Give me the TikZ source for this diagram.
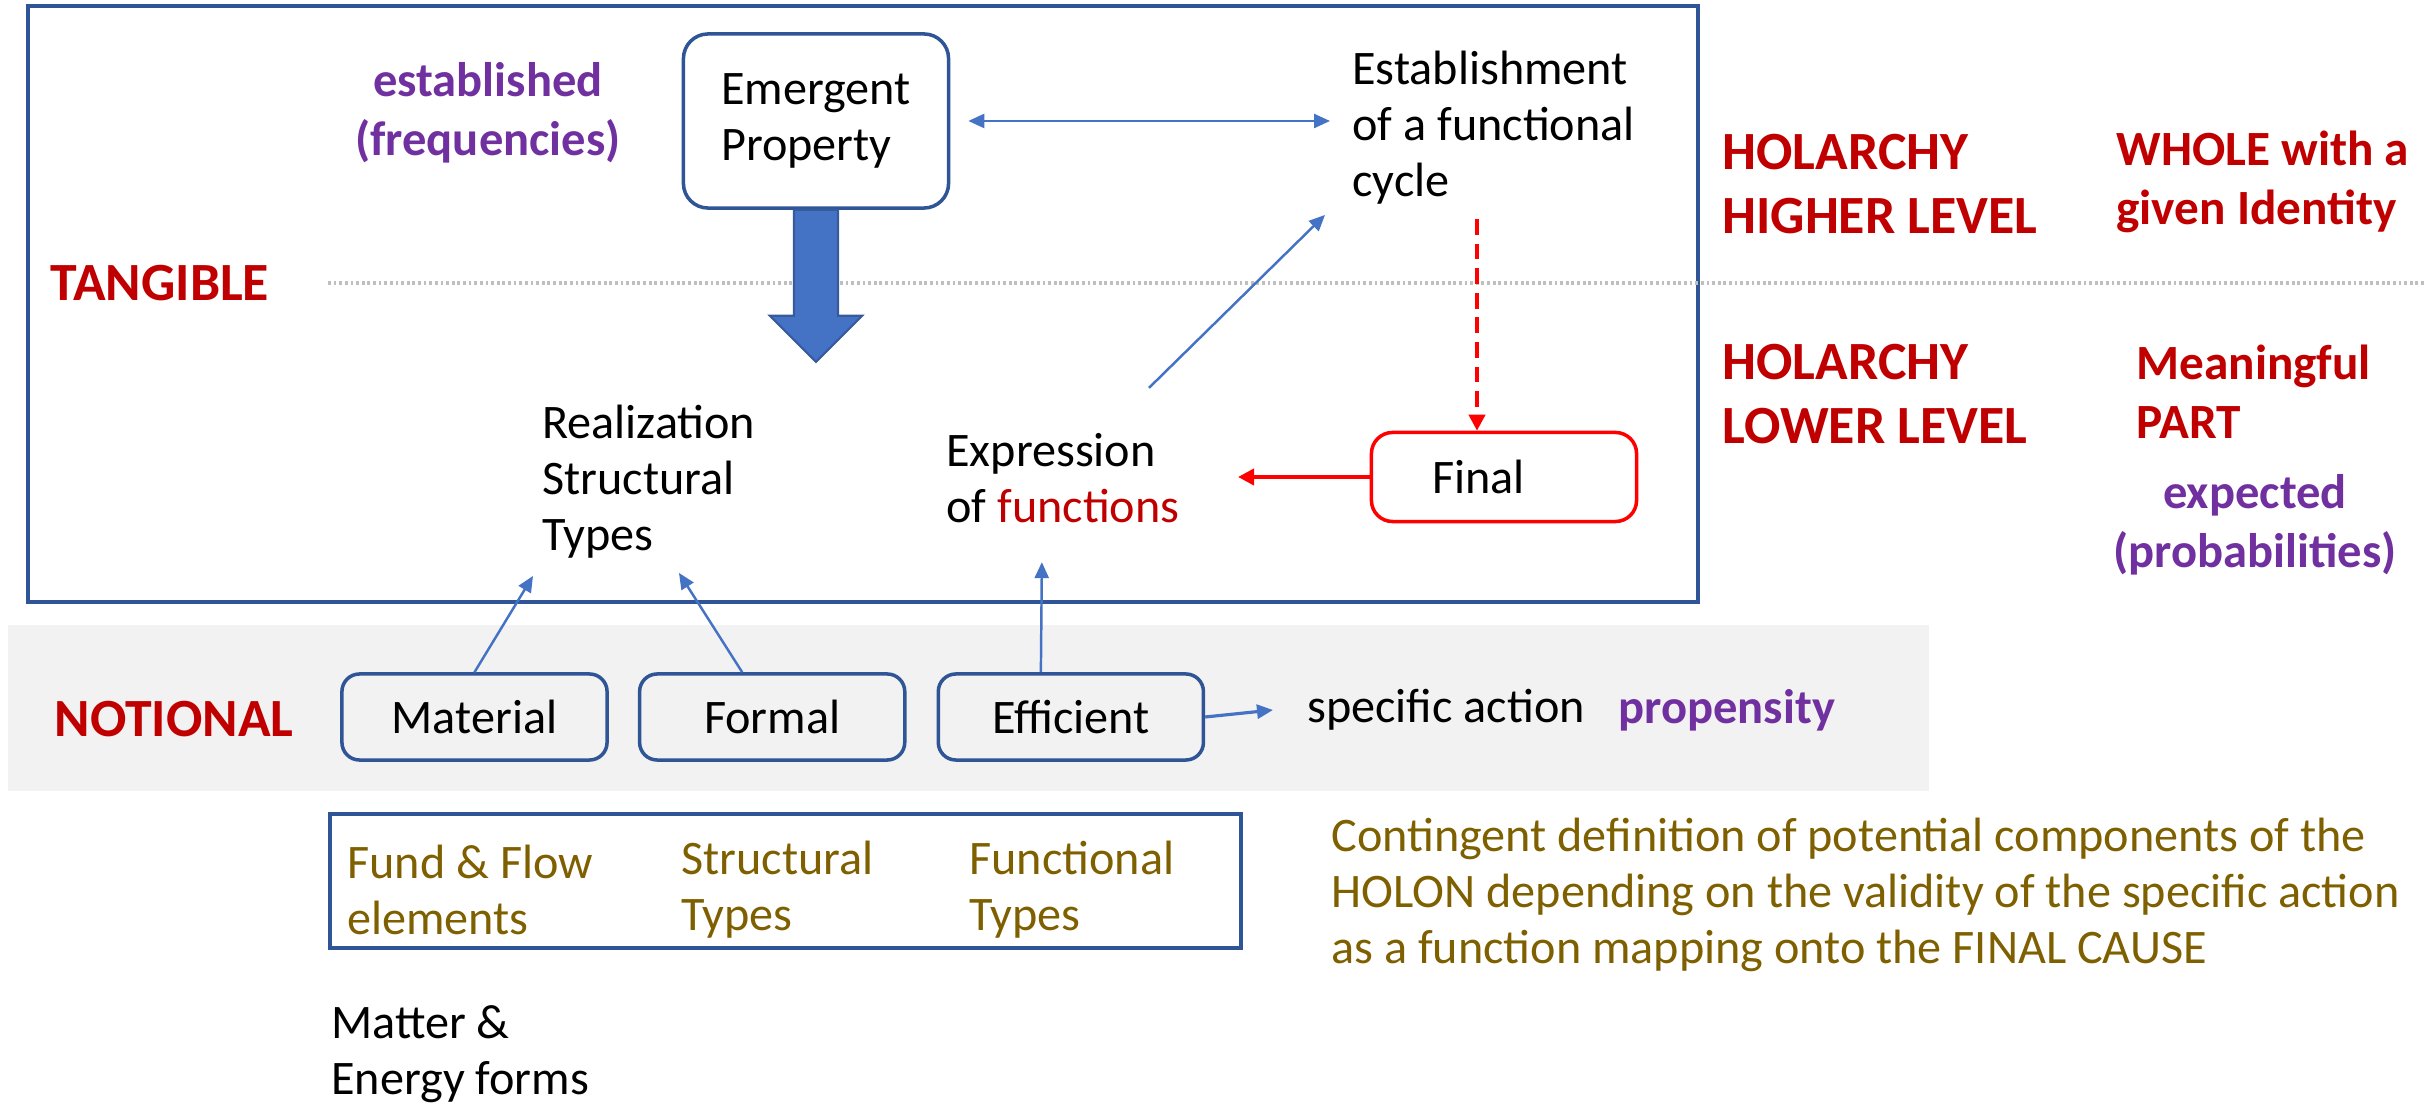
\documentclass[tikz,border=0pt]{standalone}
\usepackage{fontspec}
\setmainfont{Carlito}
\usepackage{tikz}
\usetikzlibrary{arrows.meta,positioning,calc}
\definecolor{frameblue}{HTML}{2F5597}
\definecolor{linkblue}{HTML}{4472C4}
\definecolor{darkred}{HTML}{C00000}
\definecolor{brightred}{HTML}{FF0000}
\definecolor{plum}{HTML}{7030A0}
\definecolor{olive}{HTML}{7F6000}
\definecolor{bandgray}{HTML}{F2F2F2}
\definecolor{dotgray}{HTML}{BFBFBF}
\tikzset{
  >={Triangle[length=1.6mm,width=1.4mm]},
  every node/.style={font=\fontsize{13.7}{15.9}\selectfont,text=black},
  box/.style={draw=frameblue,line width=1pt,rounded corners=7pt,align=left},
  causebox/.style={box,rounded corners=5pt,align=center,minimum width=2.65cm,minimum height=0.86cm},
  finalbox/.style={draw=brightred,line width=1pt,rounded corners=6pt,align=left,inner xsep=0.61cm,text width=1.43cm,minimum height=0.89cm},
  txt/.style={align=left},
  level/.style={align=left,font=\bfseries\fontsize{15.3}{18.2}\selectfont,text=darkred},
  role/.style={align=left,font=\bfseries\fontsize{14}{16.8}\selectfont,text=darkred},
  chance/.style={align=center,font=\bfseries\fontsize{13.8}{16.8}\selectfont,text=plum},
  note/.style={align=left,text=olive},
  link/.style={->,line width=0.7pt,draw=linkblue},
  cause/.style={->,line width=1.1pt,draw=brightred,>={Triangle[length=1.6mm,width=1.6mm]}},
  fatarrow/.style={fill=linkblue,draw=linkblue!80!black,line width=0.6pt},
  divider/.style={draw=dotgray,line width=1.2pt,dash pattern=on 0.8pt off 0.8pt},
  frame/.style={draw=frameblue,line width=1.2pt}
}
\begin{document}
\begin{tikzpicture}[x=0.01cm,y=-0.01cm]
  \useasboundingbox (0,0) rectangle (2436,1104);
  \fill[bandgray] (8,625) rectangle (1929,791);
  \draw[frame] (28,6) rectangle (1698,602);
  \draw[divider] (328,283) -- (2425,283);

  % tangible level
  \node[level] (tangible) at (160,283) {TANGIBLE};
  \node[chance] (established) at (488,113) {established\\(frequencies)};
  \node[box,minimum width=2.65cm,minimum height=1.74cm] (emergent) at (816,121) {Emergent\\Property};
  \node[txt,anchor=west] (establish) at (1340,128) {Establishment\\of a functional\\cycle};
  \node[txt,anchor=west] (realization) at (530,482) {Realization\\Structural\\Types};
  \node[txt,anchor=west] (expression) at (934,478) {Expression\\of \textcolor{darkred}{functions}};
  \node[finalbox] (final) at (1504,477) {Final};

  \node[level,anchor=west] (higher) at (1710,184) {HOLARCHY\\HIGHER LEVEL};
  \node[level,anchor=west] (lower) at (1710,394) {HOLARCHY\\LOWER LEVEL};
  \node[role,anchor=west] (whole) at (2104,182) {WHOLE with a\\given Identity};
  \node[role,anchor=west] (part) at (2124,392) {Meaningful\\PART};
  \node[chance] (expected) at (2255,525) {expected\\(probabilities)};

  % notional level
  \node[level] (notional) at (174,719) {NOTIONAL};
  \node[causebox] (material) at (474.5,717) {Material};
  \node[causebox,right=0.29cm of material] (formal) {Formal};
  \node[causebox,right=0.3cm of formal] (efficient) {Efficient};
  \node[txt,anchor=west] (specific) at (1295,710) {specific action};
  \node[chance,right=0.09cm of specific] (propensity) {propensity};

  % types below
  \draw[frame] (330,814) rectangle (1241,948);
  \node[note,anchor=west] (fund) at (335,890) {Fund \& Flow\\elements};
  \node[note,anchor=west] (structural) at (669,890) {Structural\\Types};
  \node[note,anchor=west] (functional) at (957,890) {Functional\\Types};
  \node[txt,anchor=west] (matter) at (319,1054) {Matter \&\\Energy forms};
  \node[note,anchor=west] (contingent) at (1319,895) {Contingent definition of potential components of the\\HOLON depending on the validity of the specific action\\as a function mapping onto the FINAL CAUSE};

  % connectors
  \filldraw[fatarrow] ($(emergent.south)+(-22,0)$) -- ++(0,106) -- ++(-24,0) -- ++(46,46) -- ++(46,-46) -- ++(-24,0) -- ++(0,-106) -- cycle;
  \draw[link,<->] ($(emergent.east)+(18,0)$) -- ($(emergent.east -| establish.west)+(-10,0)$);
  \draw[link] ($(expression.north west)+(215,-33)$) -- ($(establish.south west)+(-15,-2)$);
  \draw[cause,dash pattern=on 4.5pt off 2.5pt] ($(final.north |- establish.south)+(-27,2)$) -- ($(final.north)+(-27,0)$);
  \draw[cause] (final.west) -- ($(final.west -| expression.west)+(304,0)$);
  \draw[link] (material.north) -- ($(realization.south west)+(3,5)$);
  \draw[link] ($(formal.north)+(-30,0)$) -- ($(realization.south west)+(149,2)$);
  \draw[link] ($(efficient.north)+(-30,0)$) -- ($(efficient.north |- expression.south)+(-29,27)$);
  \draw[link,line width=0.9pt] (efficient.east) -- ($(specific.west)+(-22,0)$);
\end{tikzpicture}
\end{document}
